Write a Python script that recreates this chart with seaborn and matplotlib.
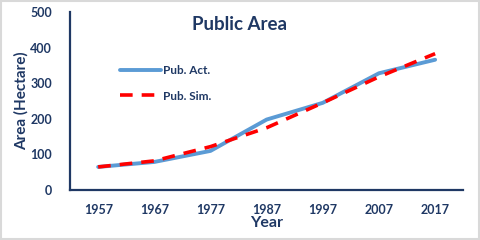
import pandas as pd
import matplotlib.pyplot as plt
import seaborn as sns
from matplotlib.patches import Rectangle

# Chart data
years = ["1957", "1967", "1977", "1987", "1997", "2007", "2017"]
pub_act = [65, 79, 110, 198, 245, 328, 366]
pub_sim = [65, 82, 122, 175, 245, 318, 383]

df = pd.DataFrame({"Year": years, "Pub. Act.": pub_act, "Pub. Sim.": pub_sim})
df["pos"] = range(len(years))

navy = "#1F3864"
sns.set_style("white")
plt.rcParams["font.family"] = ["Lato", "DejaVu Sans"]
plt.rcParams["font.weight"] = "bold"

fig = plt.figure(figsize=(4.8, 2.4), dpi=100)
ax = fig.add_axes([0.146, 0.208, 0.819, 0.742])

sns.lineplot(data=df, x="pos", y="Pub. Act.", ax=ax, color="#5B9BD5",
             linewidth=2.8, label="Pub. Act.")
sns.lineplot(data=df, x="pos", y="Pub. Sim.", ax=ax, color="#FF0000",
             linewidth=2.6, linestyle=(0, (3.5, 2.5)), label="Pub. Sim.")

ax.set_xlim(-0.5, len(years) - 0.5)
ax.set_ylim(0, 500)
ax.set_xticks(df["pos"])
ax.set_xticklabels(years)
ax.set_yticks(range(0, 501, 100))
ax.tick_params(axis="both", length=0, labelsize=9, labelcolor=navy)
ax.tick_params(axis="x", pad=10)
ax.tick_params(axis="y", pad=13)
for lab in ax.get_xticklabels() + ax.get_yticklabels():
    lab.set_fontweight("bold")

ax.set_xlabel("Year", fontsize=11.5, color=navy, fontweight="bold", labelpad=0)
ax.set_ylabel("Area (Hectare)", fontsize=11, color=navy, fontweight="bold", labelpad=1)
ax.set_title("Public Area", fontsize=13.5, color=navy, fontweight="bold",
             x=0.43, y=0.85)

for side in ["top", "right"]:
    ax.spines[side].set_visible(False)
for side in ["left", "bottom"]:
    ax.spines[side].set_color(navy)
    ax.spines[side].set_linewidth(1.6)

leg = ax.legend(loc="upper left", bbox_to_anchor=(0.10, 0.76), frameon=False,
                handlelength=3.5, labelspacing=1.2, fontsize=8.5, handletextpad=0.1)
for t in leg.get_texts():
    t.set_color(navy)
    t.set_fontweight("bold")

fig.patches.append(Rectangle((0.002, 0.004), 0.996, 0.992, transform=fig.transFigure,
                             fill=False, edgecolor="#D9D9D9", linewidth=1.5))

fig.savefig("out.png", dpi=100)
